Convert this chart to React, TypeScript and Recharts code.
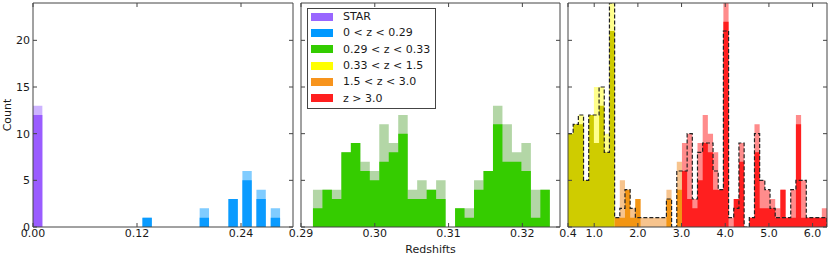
import { Area, ComposedChart, Legend, Line, XAxis, YAxis } from "recharts";

const FONT = "'DejaVu Sans', sans-serif";
const FRAME = "#444";
const TEXT = "#1a1a1a";

// ---- left panel: stars and 0 < z < 0.29 (narrow bars, gaps between them)
const starLo = [0];
const starPale = [13];
const starDark = [12];
const blueLo = [0.1263, 0.1923, 0.2255, 0.2416, 0.2578, 0.2743];
const bluePale = [1, 2, 3, 6, 4, 2];
const blueDark = [1, 1, 3, 5, 3, 1];
const LEFT_BAR_W = 0.0108;
const leftTicks = [0, 0.12, 0.24];

// ---- middle panel: 0.29 < z < 0.33
const MID_BIN0 = 0.29162;
const MID_BIN_W = 0.001284;
const greenPale = [4, 4, 4, 8, 9, 7, 6, 11, 9, 12, 4, 5, 4, 5, 0, 2, 2, 5, 6, 13, 11, 8, 9, 4, 4];
const greenDark = [2, 4, 3, 8, 9, 6, 5, 7, 8, 10, 3, 3, 4, 3, 0, 2, 1, 4, 6, 11, 7, 7, 6, 1, 4];
const midTicks = [0.29, 0.3, 0.31, 0.32];

// ---- right panel: z > 0.33, 50 bins; colour groups start at bin index
const R_BIN0 = 0.4;
const R_BIN_W = 0.1186;
const yellowStart = 0;
const yellowPale = [10, 11, 12, 5, 12, 15, 15, 10, 24];
const yellowDark = [10, 11, 11, 5, 12, 9, 13, 8, 21];
const orangeStart = 9;
const orangePale = [1, 5, 4, 2, 3, 1, 1, 1, 1, 1, 4, 0, 7];
const orangeDark = [1, 1, 4, 1, 3, 0, 0, 0, 0, 0, 3, 0, 4];
const redStart = 22;
const redPale = [9, 10, 3, 9, 12, 10, 8, 4, 24, 1, 3, 9, 0, 1, 11, 5, 4, 3, 2, 4, 1, 4, 12, 5, 1, 1, 1, 2];
const redDark = [6, 3, 2, 5, 9, 8, 4, 4, 22, 0, 3, 7, 0, 1, 8, 2, 2, 2, 1, 4, 1, 1, 11, 1, 1, 1, 1, 1];
const outline = [
  10, 11, 12, 5, 12, 12, 15, 8, 24,
  1, 2, 4, 2, 1, 1, 1, 1, 1, 1, 3, 0, 6,
  6, 10, 3, 8, 9, 9, 6, 4, 21, 1, 2, 9, 0, 1, 10, 5, 4, 2, 1, 1, 1, 4, 5, 5, 1, 1, 1, 1,
];
const rightTicks = [0.4, 1, 2, 3, 4, 5, 6];

const yTicks = [0, 5, 10, 15, 20];

const legendLabels = ["STAR", "0 < z < 0.29", "0.29 < z < 0.33", "0.33 < z < 1.5", "1.5 < z < 3.0", "z > 3.0"];
const legendColors = ["#9966ff", "#0099ff", "#33cc00", "#ffff00", "#f7941d", "#ff1f1f"];

type Row = Record<string, number>;

const leftRows: Row[] = [];
const leftZero = () => ({ starPale: 0, starDark: 0, bluePale: 0, blueDark: 0 });
starLo.forEach((lo, i) => {
  leftRows.push({ ...leftZero(), x: lo, starPale: starPale[i], starDark: starDark[i] });
  leftRows.push({ ...leftZero(), x: lo + LEFT_BAR_W });
});
blueLo.forEach((lo, i) => {
  leftRows.push({ ...leftZero(), x: lo, bluePale: bluePale[i], blueDark: blueDark[i] });
  leftRows.push({ ...leftZero(), x: lo + LEFT_BAR_W });
});
leftRows.sort((a, b) => a.x - b.x);

const midRows: Row[] = [];
for (let k = 0; k <= greenPale.length; k++) {
  midRows.push({ x: MID_BIN0 + k * MID_BIN_W, pale: greenPale[k] ?? 0, dark: greenDark[k] ?? 0 });
}

const at = (arr: number[], start: number, k: number) => (k >= start && k < start + arr.length ? arr[k - start] : 0);
const rightRows: Row[] = [];
for (let k = 0; k <= outline.length; k++) {
  rightRows.push({
    x: R_BIN0 + k * R_BIN_W,
    yPale: at(yellowPale, yellowStart, k),
    yDark: at(yellowDark, yellowStart, k),
    oPale: at(orangePale, orangeStart, k),
    oDark: at(orangeDark, orangeStart, k),
    rPale: at(redPale, redStart, k),
    rDark: at(redDark, redStart, k),
    outline: outline[k] ?? 0,
  });
}

const tickStyle = { fontSize: 11, fill: TEXT, fontFamily: FONT };

function frameAxes(
  domain: [number, number],
  ticks: number[],
  digits: number,
  leftWidth: number,
  showY: boolean,
  xLabel?: string,
) {
  return [
    <XAxis
      key="xb"
      xAxisId="b"
      dataKey="x"
      type="number"
      domain={domain}
      ticks={ticks}
      interval={0}
      allowDataOverflow
      height={29}
      tickSize={-4}
      tickMargin={6}
      stroke={FRAME}
      tick={tickStyle}
      tickFormatter={(v: number) => v.toFixed(digits)}
      label={
        xLabel
          ? { value: xLabel, position: "insideBottom", offset: 3, fontSize: 11, fill: TEXT, fontFamily: FONT }
          : undefined
      }
    />,
    <XAxis
      key="xt"
      xAxisId="t"
      orientation="top"
      dataKey="x"
      type="number"
      domain={domain}
      ticks={ticks}
      interval={0}
      allowDataOverflow
      height={3}
      tickSize={-4}
      stroke={FRAME}
      tickFormatter={() => ""}
    />,
    <YAxis
      key="yl"
      yAxisId="l"
      type="number"
      domain={[0, 24]}
      ticks={yTicks}
      interval={0}
      allowDataOverflow
      width={leftWidth}
      tickSize={-4}
      tickMargin={7}
      stroke={FRAME}
      tick={tickStyle}
      tickFormatter={(v: number) => (showY ? String(v) : "")}
      label={
        showY
          ? { value: "Count", angle: -90, position: "center", dx: -9.5, fontSize: 11, fill: TEXT, fontFamily: FONT }
          : undefined
      }
    />,
    <YAxis
      key="yr"
      yAxisId="r"
      orientation="right"
      type="number"
      domain={[0, 24]}
      ticks={yTicks}
      interval={0}
      allowDataOverflow
      width={3}
      tickSize={-4}
      stroke={FRAME}
      tickFormatter={() => ""}
    />,
  ];
}

function step(key: string, color: string) {
  return (
    <Area
      key={key}
      xAxisId="b"
      yAxisId="l"
      type="stepAfter"
      dataKey={key}
      fill={color}
      fillOpacity={1}
      stroke="none"
      dot={false}
      activeDot={false}
      isAnimationActive={false}
      legendType="none"
    />
  );
}

function LegendBox() {
  return (
    <div
      style={{
        border: `1px solid ${FRAME}`,
        background: "#fff",
        width: 127,
        paddingBottom: 2,
        fontFamily: FONT,
        fontSize: 11,
        color: TEXT,
      }}
    >
      {legendLabels.map((label, i) => (
        <div key={label} style={{ display: "flex", alignItems: "center", height: 16.3 }}>
          <span style={{ display: "inline-block", width: 22, height: 8, marginLeft: 3.5, marginRight: 10, background: legendColors[i] }} />
          <span style={{ whiteSpace: "nowrap" }}>{label}</span>
        </div>
      ))}
    </div>
  );
}

export default function App() {
  const margin = { top: 0, right: 0, bottom: 0, left: 0 };
  return (
    <div style={{ position: "absolute", left: 0, top: 0, width: 830, height: 256, background: "#fff" }}>
      <div style={{ position: "absolute", left: 0, top: 0 }}>
        <ComposedChart width={296} height={256} data={leftRows} margin={margin}>
          {frameAxes([0, 0.3], leftTicks, 2, 33, true)}
          {step("starPale", "#cdb3ff")}
          {step("bluePale", "#80ccff")}
          {step("starDark", "#9a5cff")}
          {step("blueDark", "#0a9bff")}
        </ComposedChart>
      </div>
      <div style={{ position: "absolute", left: 286, top: 0 }}>
        <ComposedChart width={277} height={256} data={midRows} margin={margin}>
          {frameAxes([0.29, 0.3251], midTicks, 2, 15, false, "Redshifts")}
          {step("pale", "#b3d6a6")}
          {step("dark", "#35cc00")}
          <Legend
            layout="vertical"
            align="center"
            verticalAlign="middle"
            wrapperStyle={{ left: 20.5, top: 7.5, width: "auto", height: "auto" }}
            content={() => <LegendBox />}
          />
        </ComposedChart>
      </div>
      <div style={{ position: "absolute", left: 553, top: 0 }}>
        <ComposedChart width={277} height={256} data={rightRows} margin={margin}>
          {frameAxes([0.4, 6.33], rightTicks, 1, 15, false)}
          {step("yPale", "#ffff8c")}
          {step("oPale", "#f7c48e")}
          {step("rPale", "#ff8c8c")}
          {step("yDark", "#cfcc00")}
          {step("oDark", "#f39512")}
          {step("rDark", "#ff1f1f")}
          <Line
            xAxisId="b"
            yAxisId="l"
            type="stepAfter"
            dataKey="outline"
            stroke="#222"
            strokeWidth={1.2}
            strokeDasharray="4 2"
            dot={false}
            activeDot={false}
            isAnimationActive={false}
            legendType="none"
          />
        </ComposedChart>
      </div>
    </div>
  );
}
